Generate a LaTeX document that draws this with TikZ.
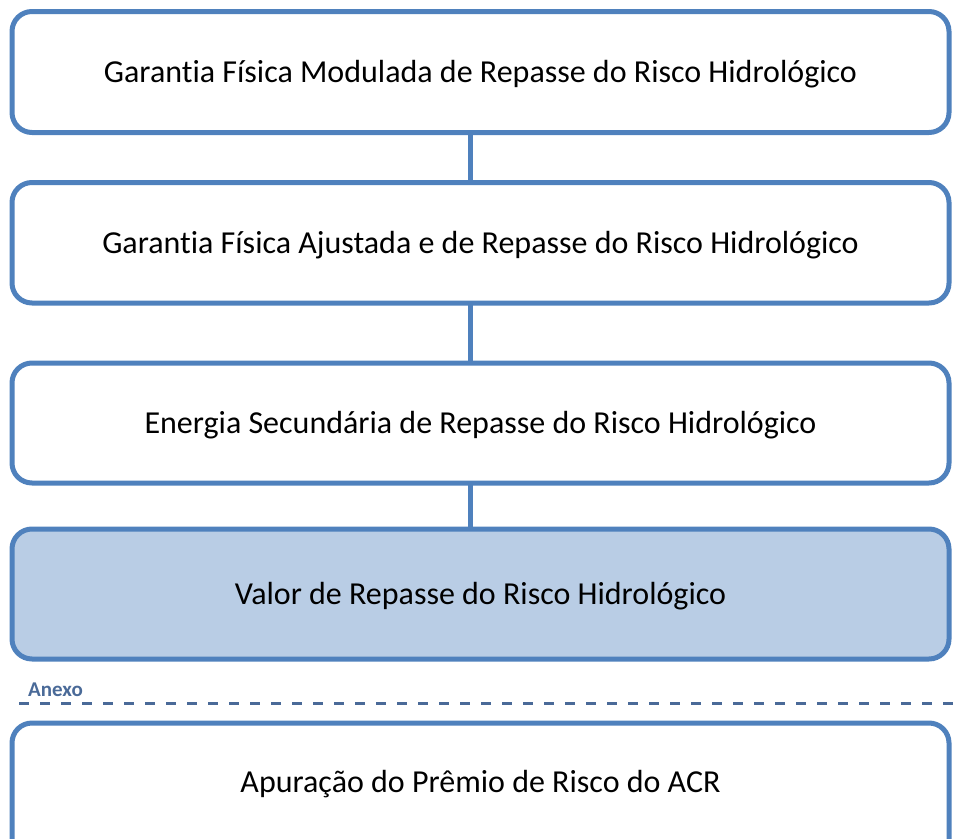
\documentclass[tikz,border=0pt]{standalone}
\usepackage{fontspec}
\setmainfont{Carlito}[Ligatures=NoCommon]
\begin{document}
\begin{tikzpicture}[x=1pt,y=-1pt,
  stepbox/.style={draw=boxblue,line width=5pt,rounded corners=20pt,fill=white},
  steptext/.style={font=\fontsize{32}{36}\selectfont,text=black},
  link/.style={draw=boxblue,line width=5pt}]
\definecolor{boxblue}{HTML}{4F81BD}
\definecolor{boxfill}{HTML}{B9CDE5}
\definecolor{annexcol}{HTML}{4A6A98}
\useasboundingbox (0,0) rectangle (963,838);
\clip (0,0) rectangle (963,838);
\path[stepbox] (12,11.5) rectangle (949,132.5);
\node[steptext] (b1) at (480.5,74) {Garantia Física Modulada de Repasse do Risco Hidrológico};
\path[stepbox] (12,182.5) rectangle (949,303);
\node[steptext] (b2) at (480.5,245) {Garantia Física Ajustada e de Repasse do Risco Hidrológico};
\path[stepbox] (12,363) rectangle (949,483);
\node[steptext] (b3) at (480.5,425) {Energia Secundária de Repasse do Risco Hidrológico};
\path[stepbox,fill=boxfill] (12,529) rectangle (949,659);
\node[steptext] (b4) at (480.5,596) {Valor de Repasse do Risco Hidrológico};
\path[stepbox] (12,723) rectangle (949,880);
\node[steptext] (b5) at (480.5,784) {Apuração do Prêmio de Risco do ACR};
\coordinate (c1a) at (470,132.5); \coordinate (c1b) at (470,182.5);
\coordinate (c2a) at (470,303); \coordinate (c2b) at (470,363);
\coordinate (c3a) at (470,483); \coordinate (c3b) at (470,529);
\draw[link] (c1a) -- (c1b);
\draw[link] (c2a) -- (c2b);
\draw[link] (c3a) -- (c3b);
\coordinate (dl) at (19,703.5); \coordinate (dr) at (963,703.5);
\draw[annexcol,line width=3pt,dash pattern=on 10pt off 11pt] (dl) -- (dr);
\node[anchor=base west,inner sep=0pt,text=annexcol,font=\fontsize{21}{24}\selectfont\bfseries] (anexo) at (28,696) {Anexo};
\end{tikzpicture}
\end{document}
